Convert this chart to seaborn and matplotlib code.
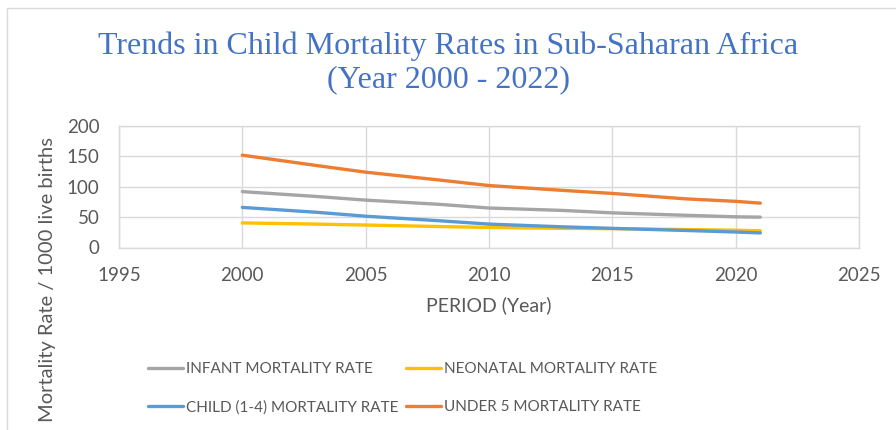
import matplotlib
matplotlib.use("Agg")
import matplotlib.pyplot as plt
from matplotlib.patches import Rectangle
import seaborn as sns
import pandas as pd

# ── Data ──────────────────────────────────────────────────────────
years = [2000, 2003, 2005, 2008, 2010, 2013, 2015, 2018, 2020, 2021]
infant = [92, 84, 78, 71, 65, 61, 57, 53, 50.5, 50]
neonatal = [40.5, 38.5, 37, 34.5, 33, 31.5, 31, 29.5, 28.5, 27.5]
child = [66, 58, 51.5, 44, 38.5, 34, 31.5, 28, 25.5, 24]
under5 = [152, 135, 124, 111, 102, 94, 89, 80, 76, 73]

series = {
    "INFANT MORTALITY RATE": infant,
    "NEONATAL MORTALITY RATE": neonatal,
    "CHILD (1-4) MORTALITY RATE": child,
    "UNDER 5 MORTALITY RATE": under5,
}
PALETTE = {
    "INFANT MORTALITY RATE": "#A5A5A5",
    "NEONATAL MORTALITY RATE": "#FFC000",
    "CHILD (1-4) MORTALITY RATE": "#5B9BD5",
    "UNDER 5 MORTALITY RATE": "#ED7D31",
}
legend_order = ["INFANT MORTALITY RATE", "CHILD (1-4) MORTALITY RATE",
                "NEONATAL MORTALITY RATE", "UNDER 5 MORTALITY RATE"]

df = pd.DataFrame(
    [(y, name, v) for name, vals in series.items() for y, v in zip(years, vals)],
    columns=["Year", "Series", "Rate"],
)

# ── Style ─────────────────────────────────────────────────────────
sns.set_theme(style="whitegrid")
plt.rcParams["font.family"] = ["Lato", "DejaVu Sans"]
TEXT = "#595959"
GRID = "#D9D9D9"

fig = plt.figure(figsize=(8.96, 4.30), dpi=100)
fig.patch.set_facecolor("white")
ax = fig.add_axes([119 / 896, 1 - 247.5 / 430, 740 / 896, 121.5 / 430])

sns.lineplot(data=df, x="Year", y="Rate", hue="Series", palette=PALETTE,
             linewidth=2.4, ax=ax, legend=False)

ax.set_xlim(1995, 2025)
ax.set_ylim(0, 200)
ax.set_xticks(range(1995, 2026, 5))
ax.set_yticks(range(0, 201, 50))
ax.grid(True, color=GRID, linewidth=1)
for sp in ax.spines.values():
    sp.set_color(GRID)
    sp.set_linewidth(1)
ax.tick_params(axis="both", length=0, labelsize=13.5, labelcolor=TEXT, pad=14)
ax.set_xlabel("PERIOD (Year)", fontsize=14, color=TEXT, labelpad=9)
ax.set_ylabel("")
fig.text(47 / 896, 1 - 279 / 430, "Mortality Rate / 1000 live births",
         rotation=90, ha="center", va="center", fontsize=14.5, color=TEXT)

fig.text(0.5, 1 - 63 / 430, "Trends in Child Mortality Rates in Sub-Saharan Africa\n(Year 2000 - 2022)",
         ha="center", va="center", fontsize=23, color="#4472C4",
         family="Liberation Serif", linespacing=1.2)

# outer chart frame
fig.patches.append(Rectangle((7 / 896, -0.05), 1.0, 1 - 8 / 430 + 0.05,
                             transform=fig.transFigure, fill=False,
                             edgecolor=GRID, linewidth=1))

handles = [plt.Line2D([], [], color=PALETTE[n], linewidth=2.4) for n in legend_order]
fig.legend(handles, legend_order, loc="upper left",
           bbox_to_anchor=(148 / 896, 1 - 362 / 430), ncol=2, frameon=False,
           fontsize=11, labelcolor=TEXT, handlelength=2.3, handletextpad=0.2,
           columnspacing=0.5, labelspacing=1.6, borderpad=0, borderaxespad=0)

fig.savefig("out.png", dpi=100)
